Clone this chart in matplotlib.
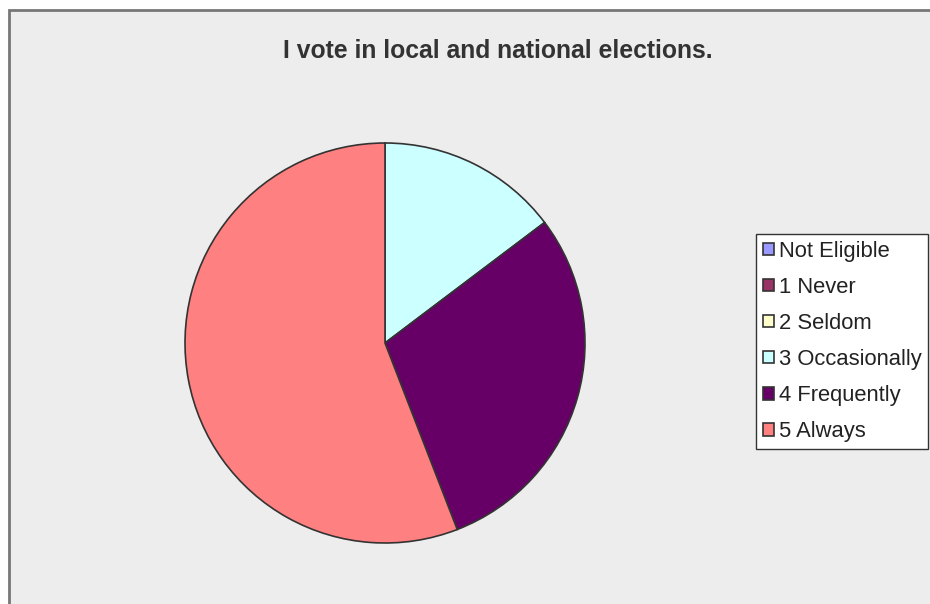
import matplotlib.pyplot as plt
from matplotlib.patches import Patch, Rectangle

categories = ['Not Eligible', '1 Never', '2 Seldom', '3 Occasionally',
              '4 Frequently', '5 Always']
counts = [0, 0, 0, 5, 10, 19]
colors = ['#9999FF', '#993366', '#FFFFCC', '#CCFFFF', '#660066', '#FF8080']

fig = plt.figure(figsize=(9.3, 6.04), dpi=100, facecolor='white')
W, H = 930, 604

# chart area background with its border (right and bottom run off the image)
fig.patches.append(Rectangle((9 / W, -0.05), 1.1, 1.05 - 10 / H,
                             transform=fig.transFigure, facecolor='#EDEDED',
                             edgecolor='#777777', lw=2, zorder=-10))

ax = fig.add_axes([185 / W, 61 / H, 400 / W, 400 / H])
shown = [(v, c) for v, c in zip(counts, colors) if v > 0]
wedges, _ = ax.pie([v for v, _ in shown], colors=[c for _, c in shown],
                   startangle=90, counterclock=False,
                   wedgeprops=dict(edgecolor='#333333', linewidth=1.2))
for w in wedges:
    w.set_clip_on(False)
ax.set_xlim(-1, 1)
ax.set_ylim(-1, 1)
ax.set_aspect('equal')

fig.text(498 / W, 1 - 51 / H, 'I vote in local and national elections.',
         ha='center', va='center', fontsize=17.8, fontweight='bold',
         family='Liberation Sans', color='#333333')

handles = [Patch(facecolor=c, edgecolor='#333333', linewidth=1.2) for c in colors]
leg = fig.legend(handles, categories, loc='upper left',
                 bbox_to_anchor=(756 / W, 1 - 234 / H),
                 prop={'family': 'Liberation Sans', 'size': 15.8},
                 handlelength=0.5, handleheight=0.5, handletextpad=0.25,
                 labelspacing=0.69, borderpad=0.3, borderaxespad=0,
                 frameon=True, fancybox=False, edgecolor='#333333')
leg.get_frame().set_linewidth(1)
leg.get_frame().set_facecolor('white')
leg.get_frame().set_alpha(1)
for t in leg.get_texts():
    t.set_color('#222222')

fig.savefig('out.png', dpi=100, facecolor='white')
